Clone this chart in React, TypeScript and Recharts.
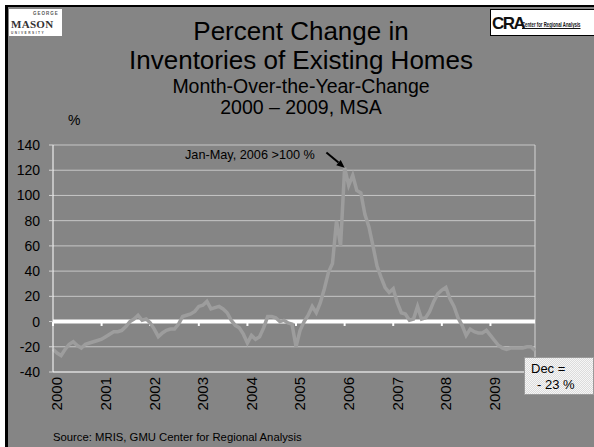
import React from "react";
import { LineChart, Line, XAxis, YAxis, CartesianGrid, ReferenceLine } from "recharts";

const years = ["2000", "2001", "2002", "2003", "2004", "2005", "2006", "2007", "2008", "2009"];
const yTicks = [-40, -20, 0, 20, 40, 60, 80, 100, 120, 140];

const v2000 = [-22, -25, -27, -22, -18, -16, -19, -21, -18, -17, -16, -15];
const v2001 = [-14, -12, -10, -8, -8, -7, -4, 0, 2, 5, 1, 2];
const v2002 = [-1, -6, -12, -9, -7, -6, -6, -2, 4, 5, 6, 8];
const v2003 = [12, 13, 16, 10, 11, 12, 10, 7, 1, -3, -5, -10];
const v2004 = [-17, -11, -14, -12, -5, 4, 4, 3, 0, 1, -1, -2];
const v2005 = [-20, -7, 0, 5, 12, 7, 15, 26, 39, 46, 80, 60];
const v2006 = [122, 108, 116, 104, 102, 85, 75, 60, 44, 35, 27, 23];
const v2007 = [26, 15, 7, 6, 1, 2, 12, 2, 3, 8, 16, 22];
const v2008 = [25, 27, 18, 12, 3, -3, -11, -6, -8, -9, -9, -7];
const v2009 = [-11, -15, -19, -21, -22, -21, -21, -21, -21, -20, -20, -23];

const series = [v2000, v2001, v2002, v2003, v2004, v2005, v2006, v2007, v2008, v2009];
const data = series.flat().map((v, i) => ({ i, v }));
const yearTickIdx = years.map((_, k) => k * 12);
const lastIdx = data.length - 1;

const FONT = "'Liberation Sans', Arial, sans-serif";

const YearTick = (props: any) => {
  const { x, y, payload } = props;
  return (
    <g transform={`translate(${x + 4},${y})`}>
      <text
        transform="rotate(-90)"
        x={0}
        y={0}
        dy="0.36em"
        textAnchor="end"
        fontSize={15}
        fontFamily={FONT}
        fill="#000"
      >
        {years[Math.round(payload.value / 12)]}
      </text>
    </g>
  );
};

const ArrowShape = (props: any) => {
  const { x1, y1, x2, y2 } = props;
  if ([x1, y1, x2, y2].some((n) => typeof n !== "number" || isNaN(n))) return null;
  const ang = Math.atan2(y2 - y1, x2 - x1);
  const L = 8;
  const W = 3.5;
  const bx = x2 - L * Math.cos(ang);
  const by = y2 - L * Math.sin(ang);
  const px = -Math.sin(ang) * W;
  const py = Math.cos(ang) * W;
  return (
    <g>
      <line x1={x1} y1={y1} x2={bx} y2={by} stroke="#000" strokeWidth={2} />
      <polygon points={`${x2},${y2} ${bx + px},${by + py} ${bx - px},${by - py}`} fill="#000" />
    </g>
  );
};

const txt = (extra: React.CSSProperties): React.CSSProperties => ({
  position: "absolute",
  fontFamily: FONT,
  color: "#000",
  lineHeight: 1,
  whiteSpace: "nowrap",
  ...extra,
});

export default function App() {
  return (
    <div style={{ position: "absolute", left: 0, top: 0, width: 594, height: 447, background: "#fff", overflow: "hidden" }}>
      <div
        style={{
          position: "absolute",
          left: 5,
          top: 5,
          width: 589,
          height: 442,
          boxSizing: "border-box",
          borderLeft: "3px solid #000",
          borderTop: "2px solid #000",
          background: "#858585",
        }}
      />
      {/* Mason logo */}
      <div style={{ position: "absolute", left: 9, top: 9, width: 53, height: 27, background: "#fff", overflow: "hidden" }}>
        <div style={txt({ left: 24, top: 3, fontSize: 4.5, fontWeight: 700, letterSpacing: 1, color: "#555" })}>GEORGE</div>
        <div style={txt({ left: 2, top: 10, fontSize: 11, fontWeight: 700, fontFamily: "'Liberation Serif', serif", color: "#333", letterSpacing: 0.3 })}>
          MASON
        </div>
        <div style={txt({ left: 2, top: 22.5, fontSize: 3.2, fontWeight: 700, letterSpacing: 1.5, color: "#555" })}>UNIVERSITY</div>
      </div>
      {/* CRA logo */}
      <div style={{ position: "absolute", left: 490, top: 9, width: 104, height: 27, background: "#fff", border: "1px solid #000", borderRight: "none", boxSizing: "border-box", overflow: "hidden" }}>
        <div style={txt({ left: 1, top: 5, fontSize: 17, fontWeight: 900, letterSpacing: -1.5, color: "#111" })}>CRA</div>
        <div style={txt({ left: 31, top: 12, fontSize: 6.5, fontWeight: 700, color: "#111", textDecoration: "underline", transform: "scaleX(0.66)", transformOrigin: "0 0" })}>
          Center for Regional Analysis
        </div>
      </div>

      <div style={{ position: "absolute", left: 0, top: 0 }}>
        <LineChart width={594} height={447} data={data} margin={{ top: 145, right: 59, bottom: 30, left: 0 }}>
          <CartesianGrid horizontal vertical={false} stroke="#c6c6c6" strokeWidth={1} />
          <XAxis
            type="number"
            dataKey="i"
            domain={[0, lastIdx]}
            ticks={yearTickIdx}
            interval={0}
            height={45}
            tick={<YearTick />}
            tickLine={false}
            tickSize={0}
            tickMargin={5}
            axisLine={{ stroke: "#e8e8e8" }}
          />
          <YAxis
            type="number"
            domain={[-40, 140]}
            ticks={yTicks}
            interval={0}
            width={53}
            tickSize={4}
            tickMargin={9}
            tickLine={{ stroke: "#d6d6d6" }}
            axisLine={{ stroke: "#ffffff" }}
            tick={{ fontSize: 14, fontFamily: FONT, fill: "#000" }}
          />
          <ReferenceLine x={lastIdx} stroke="#d4d4d4" strokeWidth={1} />
          <ReferenceLine y={0} stroke="#ffffff" strokeWidth={4} />
          {yearTickIdx.map((t) => (
            <ReferenceLine
              key={t}
              segment={[
                { x: t, y: 0 },
                { x: t, y: -3.5 },
              ]}
              stroke="#ffffff"
              strokeWidth={2}
            />
          ))}
          <Line type="linear" dataKey="v" stroke="#9d9d9d" strokeWidth={3.5} dot={false} isAnimationActive={false} />
          <ReferenceLine
            segment={[
              { x: 67.5, y: 134 },
              { x: 72, y: 122 },
            ]}
            shape={<ArrowShape />}
          />
        </LineChart>
      </div>

      {/* Titles */}
      <div style={txt({ left: 8, width: 586, top: 18, fontSize: 26, textAlign: "center" })}>Percent Change in</div>
      <div style={txt({ left: 8, width: 586, top: 47, fontSize: 26, textAlign: "center" })}>Inventories of Existing Homes</div>
      <div style={txt({ left: 8, width: 586, top: 77, fontSize: 19.5, textAlign: "center" })}>Month-Over-the-Year-Change</div>
      <div style={txt({ left: 8, width: 586, top: 98, fontSize: 19.5, textAlign: "center" })}>2000 – 2009, MSA</div>
      <div style={txt({ left: 68, top: 113, fontSize: 14 })}>%</div>

      {/* Annotation */}
      <div style={txt({ left: 185, top: 149, fontSize: 12.7 })}>Jan-May, 2006 &gt;100 %</div>

      {/* Dec box */}
      <div
        style={{
          position: "absolute",
          left: 524,
          top: 357,
          width: 70,
          height: 38,
          boxSizing: "border-box",
          border: "1px solid #9a9a9a",
          background: "repeating-conic-gradient(#f6f6f6 0 25%, #dcdcdc 0 50%) 0 0 / 2px 2px",
        }}
      >
        <div style={txt({ left: 6, top: 4, fontSize: 13 })}>Dec =</div>
        <div style={txt({ left: 12, top: 20, fontSize: 13 })}>- 23 %</div>
      </div>

      {/* Source */}
      <div style={txt({ left: 53, top: 431.5, fontSize: 11.3 })}>Source: MRIS, GMU Center for Regional Analysis</div>
    </div>
  );
}
